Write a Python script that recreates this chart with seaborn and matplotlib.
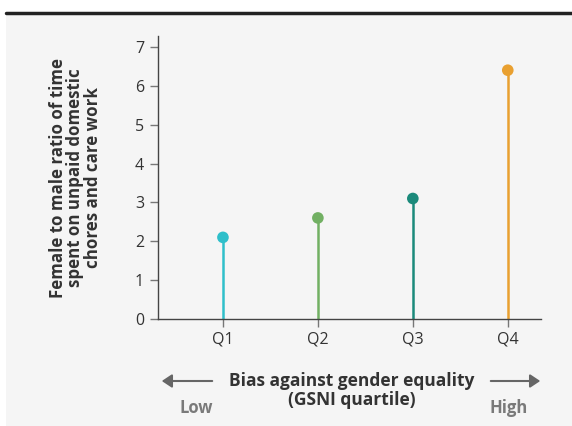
import matplotlib
matplotlib.use('Agg')
import matplotlib.pyplot as plt
import seaborn as sns
import pandas as pd
from matplotlib.lines import Line2D
from matplotlib.patches import Rectangle, FancyArrowPatch

# Data
quartiles = ['Q1', 'Q2', 'Q3', 'Q4']
ratios = [2.1, 2.6, 3.1, 6.4]
colors = ['#2fbfca', '#72b063', '#1b8a7b', '#e9a030']
y_ticks = [0, 1, 2, 3, 4, 5, 6, 7]

df = pd.DataFrame({'quartile': quartiles, 'ratio': ratios})

sns.set_style('white')
plt.rcParams['font.family'] = ['Open Sans', 'DejaVu Sans']

fig = plt.figure(figsize=(5.72, 4.26), dpi=100)
fig.patch.set_facecolor('white')

# grey panel + black top rule
fig.patches.append(Rectangle((6 / 572, 0), 1 - 6 / 572, 1 - 14 / 426,
                             transform=fig.transFigure, facecolor='#f5f5f5',
                             edgecolor='none', zorder=-5))
fig.add_artist(Line2D([6 / 572, 1], [1 - 13 / 426, 1 - 13 / 426],
                      color='#222222', linewidth=2.5))

ax = fig.add_axes([158 / 572, 1 - 319 / 426, (541 - 158) / 572, (319 - 36) / 426])
ax.set_facecolor('none')

# stems
ax.vlines(range(len(quartiles)), 0, ratios, colors=colors, linewidth=1.8, zorder=2)
sns.scatterplot(data=df, x='quartile', y='ratio', hue='quartile', palette=colors,
                s=70, edgecolor='none', legend=False, ax=ax, zorder=3)

ax.set_xlim(-0.684, 3.35)
ax.set_ylim(0, 7.28)
ax.set_yticks(y_ticks)
ax.set_xlabel('')
ax.set_ylabel('Female to male ratio of time\nspent on unpaid domestic\nchores and care work',
              fontsize=12.2, fontweight='bold', color='#333333', labelpad=24,
              linespacing=0.95)

sns.despine(ax=ax)
for s in ['left', 'bottom']:
    ax.spines[s].set_color('#444444')
    ax.spines[s].set_linewidth(1.0)
ax.tick_params(axis='both', bottom=True, left=True, colors='#777777',
               labelcolor='#333333', labelsize=11.5, length=6, width=1,
               direction='out')
ax.tick_params(axis='y', pad=4)
ax.tick_params(axis='x', pad=3)

# x-axis caption with arrows
fig.text(352 / 572, 1 - 381 / 426, 'Bias against gender equality',
         ha='center', va='center', fontsize=12.5, fontweight='bold', color='#333333')
fig.text(352 / 572, 1 - 400 / 426, '(GSNI quartile)',
         ha='center', va='center', fontsize=12.5, fontweight='bold', color='#333333')
fig.text(196 / 572, 1 - 408 / 426, 'Low', ha='center', va='center', fontsize=12,
         fontweight='bold', color='#7a7a7a')
fig.text(509 / 572, 1 - 408 / 426, 'High', ha='center', va='center', fontsize=12,
         fontweight='bold', color='#7a7a7a')
ya = 1 - 381 / 426
fig.add_artist(FancyArrowPatch(
    (215 / 572, ya), (159 / 572, ya), transform=fig.transFigure,
    arrowstyle='-|>,head_length=6,head_width=4', color='#666666', linewidth=1.5))
fig.add_artist(FancyArrowPatch(
    (488 / 572, ya), (543 / 572, ya), transform=fig.transFigure,
    arrowstyle='-|>,head_length=6,head_width=4', color='#666666', linewidth=1.5))

plt.savefig('out.png', dpi=100)
